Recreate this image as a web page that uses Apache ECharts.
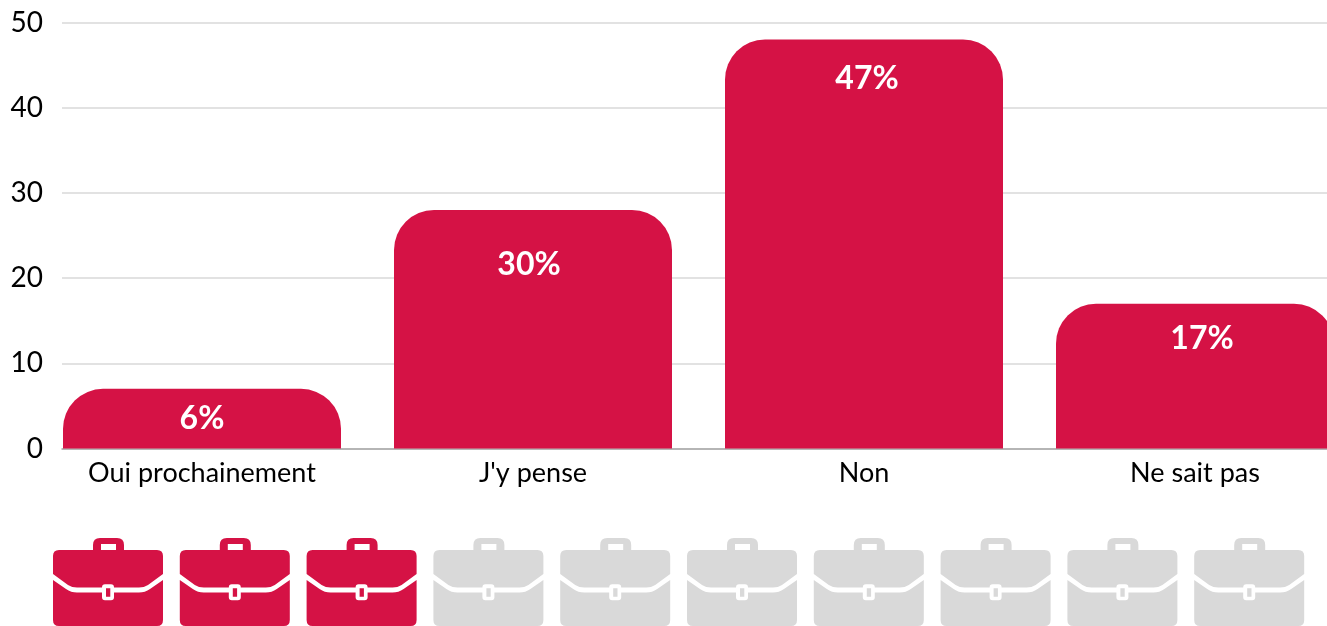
<!DOCTYPE html>
<html><head><meta charset="utf-8">
<style>html,body{margin:0;padding:0;background:#fff;overflow:hidden}#c{width:1327px;height:626px}</style>
<script src="https://cdn.jsdelivr.net/npm/echarts@6/dist/echarts.min.js"></script>
</head><body><div id="c"></div>
<script>
const categories = ["Oui prochainement", "J'y pense", "Non", "Ne sait pas"];
const values = [7, 28, 48, 17];
const valueLabels = ["6%", "30%", "47%", "17%"];
const yTicks = [0, 10, 20, 30, 40, 50];
const icons = [1, 1, 1, 0, 0, 0, 0, 0, 0, 0];

const RED = "#D51245", GREY = "#D9D9D9", FONT = "Lato";
const labelNudges = [[0, 9], [-4, 34], [3, 18], [7, 14]];
const briefcase = "path://M6 12H104Q110 12 110 18V36L95 47Q91 49.5 86 49.5H61Q61 46.3 58 46.3H52Q49 46.3 49 49.5H24Q19 49.5 15 47L0 36V18Q0 12 6 12Z" +
  "M0 42L13 51Q18 54.5 24 54.5H49V59.3Q49 62.3 52 62.3H58Q61 62.3 61 59.3V54.5H86Q92 54.5 97 51L110 42V82Q110 88 104 88H6Q0 88 0 82Z" +
  "M53 50.3H57.3V58.7H53Z" +
  "M40 12V7Q40 0 47 0H64Q71 0 71 7V12H63V6H48V12Z";

const chart = echarts.init(document.getElementById("c"), null, {renderer: "canvas"});
chart.setOption({
  animation: false,
  grid: [
    {left: 62, width: 1265, top: 22.5, height: 426, outerBoundsMode: "none"},
    {left: 36.5, width: 1324, top: 22.5, height: 426, outerBoundsMode: "none"},
    {left: 44.6, width: 1268, top: 538, height: 88, outerBoundsMode: "none"}
  ],
  xAxis: [
    {gridIndex: 0, type: "category", data: categories, axisTick: {show: false}, axisLabel: {show: false},
     axisLine: {show: true, lineStyle: {color: "#A6A6A6", width: 1.5}}},
    {gridIndex: 1, type: "category", data: categories, axisTick: {show: false}, axisLine: {show: false},
     axisLabel: {color: "#000", fontFamily: FONT, fontSize: 27, margin: 11, interval: 0}},
    {gridIndex: 2, type: "category", data: icons.map((_, i) => String(i + 1)), show: false}
  ],
  yAxis: [
    {gridIndex: 0, type: "value", min: yTicks[0], max: yTicks[yTicks.length - 1], interval: 10,
     axisLine: {show: false}, axisTick: {show: false},
     axisLabel: {color: "#000", fontFamily: FONT, fontSize: 28, margin: 19},
     splitLine: {lineStyle: {color: "#D9D9D9", width: 1.5}}},
    {gridIndex: 1, type: "value", min: 0, max: 50, interval: 10, show: false},
    {gridIndex: 2, type: "value", min: 0, max: 1, show: false}
  ],
  series: [
    {type: "bar", xAxisIndex: 1, yAxisIndex: 1, barWidth: 278, clip: false,
     data: values.map((v, i) => ({
       value: v,
       itemStyle: {color: RED, borderRadius: [40, 40, 0, 0]},
       label: {show: true, position: "insideTop", offset: labelNudges[i], formatter: valueLabels[i],
         color: "#fff", fontFamily: FONT, fontWeight: 700, fontSize: 32}
     }))},
    {type: "pictorialBar", xAxisIndex: 2, yAxisIndex: 2, symbol: briefcase, symbolSize: [110, 88],
     symbolPosition: "end", symbolOffset: [0, 0], clip: false,
     data: icons.map(on => ({value: 1, itemStyle: {color: on ? RED : GREY}}))}
  ]
});
</script></body></html>
